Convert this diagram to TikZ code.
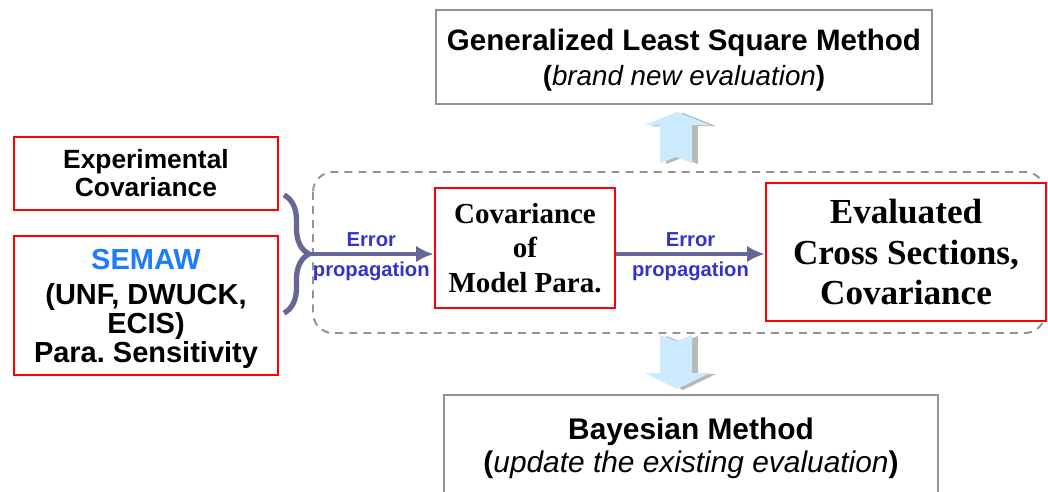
\documentclass[tikz,border=0pt]{standalone}
\usepackage{fontspec}
\setmainfont{Liberation Serif}
\setsansfont{Liberation Sans}
\usetikzlibrary{arrows,arrows.meta,positioning,decorations.pathreplacing}
\colorlet{rouge}{red}
\definecolor{ardoise}{HTML}{666699}
\definecolor{bleuerr}{HTML}{3333CC}
\definecolor{bleusem}{HTML}{1E7BFF}
\definecolor{ciel}{HTML}{CCEBFF}
\colorlet{ombre}{gray!55}
\frenchspacing

\begin{document}
\begin{tikzpicture}[x=0.02cm,y=-0.02cm,
  boiterouge/.style={draw=rouge,line width=1.6pt,fill=white,align=center,inner sep=0pt},
  boitegrise/.style={draw=gray!85,line width=1.4pt,fill=white,align=center,inner sep=0pt},
  fleche/.style={-{Latex[length=10pt,width=9.5pt]},draw=ardoise,line width=2.8pt},
  etiq/.style={text=bleuerr,inner sep=2pt,font=\sffamily\bfseries\fontsize{11.5}{13}\selectfont}]%
\useasboundingbox (0,0) rectangle (1048,491);
\clip (0,0) rectangle (1048,491);
%%CADRE POINTILLE
\draw[gray!85,line width=1.1pt,dash pattern=on 4.5pt off 3.5pt,rounded corners=0.4cm] (313,172) rectangle (1045,333);%%
%%FLECHES BLEUES
\fill[ombre] (683,113)--(716,126)--(698,126)--(698,164)--(682,158)--(666,164)--(666,126)--(651,126)--cycle;%%
\fill[ciel] (677,112)--(710,125)--(692,125)--(692,163)--(676,157)--(660,163)--(660,125)--(645,125)--cycle;%%
\fill[ombre] (666,336)--(682,342)--(698,336)--(698,374)--(716,374)--(683,390)--(651,374)--(666,374)--cycle;%%
\fill[ciel] (660,335)--(676,341)--(692,335)--(692,373)--(710,373)--(677,389)--(645,373)--(660,373)--cycle;%%
%%BOITES
\node[boitegrise,minimum width=9.92cm,minimum height=1.88cm,text depth=-2.7pt,font=\sffamily\fontsize{16.8}{20}\selectfont] (gls) at (684,57)
  {\bfseries Generalized Least Square Method\\{\fontsize{15.8}{20}\selectfont{\bfseries(}\textit{brand new evaluation}{\bfseries)}}};%%
\node[boitegrise,minimum width=9.88cm,minimum height=2cm,text depth=-1.5pt,font=\sffamily\fontsize{17}{18.5}\selectfont] (bay) at (691,445)
  {\bfseries Bayesian Method\\{\bfseries(}\textit{update the existing evaluation}{\bfseries)}};%%
\node[boiterouge,minimum width=5.28cm,minimum height=1.46cm,font=\sffamily\bfseries\fontsize{15}{16}\selectfont] (exp) at (146,173.5)
  {Experimental\\Covariance};%%
\node[boiterouge,minimum width=5.28cm,minimum height=2.78cm,text depth=-6.5pt,font=\sffamily\bfseries\fontsize{16.5}{16.5}\selectfont] (sem) at (146,305.5)
  {{\color{bleusem}SEMAW}\\[3.5pt](UNF, DWUCK,\\ECIS)\\Para. Sensitivity};%%
\node[boiterouge,minimum width=3.6cm,minimum height=2.4cm,font=\bfseries\fontsize{16.5}{19.5}\selectfont] (cov) at (525,248)
  {Covariance\\of\\Model Para.};%%
\node[boiterouge,minimum width=5.6cm,minimum height=2.76cm,font=\bfseries\fontsize{20}{23}\selectfont] (eval) at (906,252)
  {Evaluated\\Cross Sections,\\Covariance};%%
%%ACCOLADE ET FLECHES
\draw[ardoise,line width=3pt,decorate,decoration={brace,amplitude=0.5cm}] (284,195)--(284,313);%%
\coordinate (tip) at (309,254);%%
\draw[fleche] (tip)--(tip-|cov.west) node[midway,above=1pt,etiq]{Error} node[midway,below=1pt,etiq]{propagation};%%
\draw[fleche] (tip-|cov.east)--(tip-|eval.west) node[midway,above=1pt,etiq]{Error} node[midway,below=1pt,etiq]{propagation};%%
\end{tikzpicture}
\end{document}
